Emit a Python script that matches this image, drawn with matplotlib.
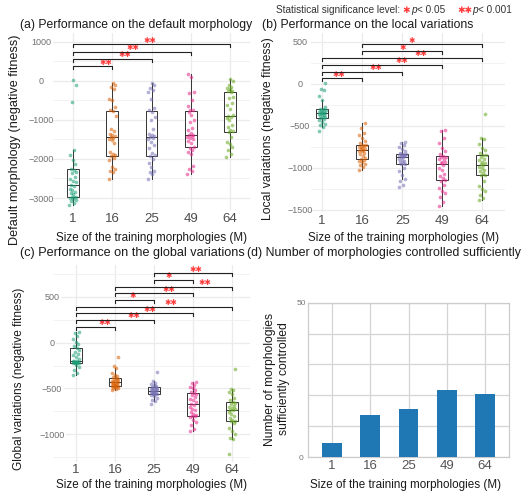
import numpy as np
import matplotlib
matplotlib.use('Agg')
import matplotlib.pyplot as plt

plt.rcParams['font.family'] = ['Liberation Sans', 'DejaVu Sans']

# ---- data ----
sizes = ['1', '16', '25', '49', '64']
colors = ['#1b9e77', '#d95f02', '#7570b3', '#e7298a', '#66a61e']

# (a) negative fitness on the default morphology, one list per M
default_scores = [
    [-3170, -3120, -3075, -3040, -3015, -3000, -2985, -2975, -2970, -2905, -2865, -2840,
     -2800, -2760, -2700, -2660, -2600, -2570, -2525, -2450, -2370, -2340, -2290, -2250,
     -2130, -2030, -1890, -1760, -540, -110, 20],
    [-2525, -2339, -2297, -2246, -2212, -2017, -1975, -1932, -1900, -1865, -1822, -1600,
     -1525, -1490, -1460, -1440, -1424, -1398, -1350, -1280, -1237, -900, -780, -760,
     -660, -490, -466, -210, -170, -110, -50],
    [-2520, -2390, -2330, -2300, -2200, -2100, -2000, -1930, -1900, -1850, -1720, -1640,
     -1560, -1500, -1470, -1450, -1420, -1400, -1360, -1240, -1000, -920, -800, -740,
     -700, -470, -290, -230, -180, -100, -60],
    [-2381, -2314, -2250, -2186, -1865, -1830, -1763, -1720, -1690, -1593, -1551, -1500,
     -1466, -1440, -1424, -1400, -1380, -1339, -1250, -1212, -1068, -1000, -873, -790,
     -760, -746, -645, -490, -320, -280, 100, 170],
    [-1950, -1870, -1780, -1700, -1620, -1560, -1450, -1320, -1290, -1260, -1180, -1120,
     -1000, -950, -920, -900, -880, -730, -620, -560, -450, -410, -300, -270, -250,
     -210, -180, -150, -110, 0, 50],
]

# (b) negative fitness on the local variations
local_scores = [
    [-565, -510, -490, -475, -450, -430, -415, -408, -400, -395, -385, -375, -365, -358,
     -352, -348, -342, -336, -330, -322, -316, -308, -300, -295, -280, -190, -140, -80,
     -60, 5],
    [-1020, -990, -970, -950, -930, -915, -905, -900, -880, -860, -840, -820, -805, -795,
     -788, -780, -772, -765, -755, -745, -735, -728, -722, -700, -680, -650, -610, -580,
     -530, -470],
    [-1230, -1200, -1160, -1130, -1090, -1040, -1000, -958, -950, -940, -930, -920, -905,
     -890, -875, -866, -860, -855, -850, -845, -840, -836, -832, -820, -800, -770, -750,
     -725, -705, -690],
    [-1450, -1400, -1350, -1300, -1270, -1240, -1200, -1150, -1140, -1120, -1100, -1070,
     -1030, -1000, -960, -945, -935, -925, -900, -890, -875, -868, -860, -830, -800, -760,
     -700, -650, -560, -545],
    [-1380, -1360, -1320, -1270, -1250, -1210, -1160, -1090, -1080, -1060, -1040, -1020,
     -1000, -985, -970, -955, -940, -930, -910, -890, -875, -850, -845, -820, -790, -760,
     -720, -660, -640, -360],
]

# (c) negative fitness on the global variations
global_scores = [
    [-350, -330, -300, -270, -240, -228, -222, -220, -218, -215, -212, -210, -208, -206,
     -205, -200, -180, -160, -140, -120, -100, -80, -55, -40, -20, 10, 40, 70, 100, 120],
    [-515, -505, -500, -490, -482, -478, -475, -473, -470, -465, -458, -450, -445, -440,
     -436, -430, -425, -420, -415, -410, -400, -395, -388, -380, -365, -350, -330, -280,
     -250, -160],
    [-670, -640, -625, -600, -585, -570, -565, -560, -558, -555, -550, -545, -540, -535,
     -528, -522, -518, -514, -510, -505, -500, -493, -488, -480, -470, -460, -450, -440,
     -420, -325],
    [-960, -945, -900, -870, -840, -810, -800, -797, -790, -780, -760, -740, -720, -700,
     -680, -665, -650, -630, -610, -590, -570, -556, -550, -540, -520, -500, -480, -460,
     -445, -430],
    [-1210, -1055, -1040, -1000, -960, -930, -880, -860, -850, -840, -820, -800, -780,
     -760, -740, -730, -720, -710, -700, -690, -670, -660, -645, -630, -600, -560, -540,
     -520, -505, -290],
]

# (d) number of morphologies sufficiently controlled
controlled_counts = [4.5, 13.7, 15.6, 21.8, 20.5]

# significance tests: (group i, group j) and label, bottom bracket first
sig_pairs_a = [(0, 1), (0, 2), (0, 3), (0, 4)]
sig_labels_a = ['**', '**', '**', '**']
sig_pairs_b = [(0, 1), (0, 2), (0, 3), (0, 4), (1, 3), (1, 4)]
sig_labels_b = ['**', '**', '**', '**', '*', '*']
sig_pairs_c = [(0, 1), (0, 2), (0, 3), (0, 4), (1, 2), (1, 3), (1, 4), (2, 3), (2, 4)]
sig_labels_c = ['**', '**', '**', '**', '*', '**', '**', '*', '**']

# ---- layout ----
W, H = 530, 496
fig = plt.figure(figsize=(W / 100, H / 100), dpi=100)
STAR = '\u2731'
RED = '#ff3c3c'


def add_axes_px(x0, x1, y0, y1):
    return fig.add_axes([x0 / W, 1 - y1 / H, (x1 - x0) / W, (y1 - y0) / H])


def ftext(x, y, s, **kw):
    return fig.text(x / W, 1 - y / H, s, **kw)


def box_panel(ax, groups, xlim, ylim, major, minor, ypad):
    line = dict(color='#333333', lw=0.7)
    ax.boxplot(groups, positions=range(5), widths=0.3, showfliers=False, showcaps=False,
               patch_artist=True, manage_ticks=False,
               boxprops=dict(facecolor='white', edgecolor='#333333', lw=0.7),
               whiskerprops=line, medianprops=line, zorder=2)
    for i, vals in enumerate(groups):
        n = len(vals)
        off = ((np.arange(n) * 0.618034) % 1 - 0.5) * 0.18
        ax.scatter(i + off, vals, s=7, color=colors[i], alpha=0.55, linewidths=0, zorder=3)
    ax.set_xlim(*xlim)
    ax.set_ylim(*ylim)
    for s in ax.spines.values():
        s.set_visible(False)
    ax.set_xticks(range(5))
    ax.set_xticklabels(sizes)
    ax.set_yticks(major)
    ax.set_yticks(minor, minor=True)
    ax.set_axisbelow(True)
    ax.grid(True, which='major', color='#ebebeb', lw=0.9)
    ax.grid(True, which='minor', axis='y', color='#f0f0f0', lw=0.6)
    ax.tick_params(which='both', length=0)
    ax.tick_params(axis='x', labelsize=9.5, labelcolor='#4d4d4d', pad=2)
    ax.tick_params(axis='y', labelsize=6.5, labelcolor='#707070', pad=ypad)
    for t in ax.yaxis.get_major_ticks():
        t.label1.set_horizontalalignment('center')


def brackets(ax, pairs, labels, base, step, star_x, tip_px=3):
    y0, y1 = ax.get_ylim()
    tip = tip_px * (y1 - y0) / (ax.get_position().height * H)
    for k, ((i, j), lab) in enumerate(zip(pairs, labels)):
        y = base + k * step
        ax.plot([i, i, j, j], [y - tip, y, y, y - tip], color='#222222', lw=0.8,
                zorder=4, clip_on=False)
        ax.annotate(STAR * len(lab), xy=(star_x[k], y), xytext=(0, 3),
                    textcoords='offset points', ha='center', va='center',
                    fontsize=5.5, color=RED, family='DejaVu Sans')


# (a)
ax_a = add_axes_px(53, 250, 33, 210)
box_panel(ax_a, default_scores, (-0.51, 4.51), (-3307, 1222),
          [-3000, -2000, -1000, 0, 1000], [-2500, -1500, -500, 500], 8.6)
brackets(ax_a, sig_pairs_a, sig_labels_a, 365, 188, [0.83, 1.32, 1.53, 1.97])

# (b)
ax_b = add_axes_px(311, 505, 33, 212)
box_panel(ax_b, local_scores, (-0.28, 4.57), (-1524, 603),
          [-1500, -1000, -500, 0, 500], [-1250, -750, -250, 250], 7.9)
brackets(ax_b, sig_pairs_b, sig_labels_b, 64, 80.5, [0.42, 1.34, 2.0, 2.46, 2.0, 2.24])

# (c)
ax_c = add_axes_px(53, 250, 265, 461.7)
box_panel(ax_c, global_scores, (-0.59, 4.46), (-1299, 846),
          [-1000, -500, 0, 500], [-1250, -750, -250, 250, 750], 0.7)
for t in ax_c.yaxis.get_major_ticks():
    t.label1.set_bbox(dict(facecolor='white', edgecolor='none', pad=1))
brackets(ax_c, sig_pairs_c, sig_labels_c, 173, 72.8,
         [0.73, 1.48, 1.9, 2.44, 1.44, 2.39, 3.31, 2.37, 3.08])

# (d)
ax_d = add_axes_px(307.7, 509.3, 302.7, 457)
ax_d.bar(range(5), controlled_counts, width=0.52, color='#1f77b4', zorder=3)
ax_d.set_xlim(-0.635, 4.635)
ax_d.set_ylim(0, 50)
ax_d.set_xticks(range(5))
ax_d.set_xticklabels(sizes)
ax_d.set_yticks([0, 10, 20, 30, 40, 50])
ax_d.set_yticklabels(['0', '', '', '', '', '50'])
ax_d.set_axisbelow(True)
ax_d.grid(True, color='#d4d4d4', lw=0.9)
for s in ax_d.spines.values():
    s.set_color('#cccccc')
    s.set_linewidth(0.9)
ax_d.tick_params(length=0)
ax_d.tick_params(axis='x', labelsize=9.5, labelcolor='#555555', pad=2)
ax_d.tick_params(axis='y', labelsize=6, labelcolor='#777777', pad=4.5)
for t in ax_d.yaxis.get_major_ticks():
    t.label1.set_horizontalalignment('center')

# titles and axis labels
tkw = dict(color='#1a1a1a', va='center', ha='left')
ftext(20, 25, '(a) Performance on the default morphology', fontsize=8.75, **tkw)
ftext(262, 25, '(b) Performance on the local variations', fontsize=8.85, **tkw)
ftext(20, 253, '(c) Performance on the global variations', fontsize=9.1, **tkw)
ftext(247, 253, '(d) Number of morphologies controlled sufficiently', fontsize=8.95, **tkw)

xkw = dict(fontsize=8.4, color='#1a1a1a', va='center', ha='center')
xlab = 'Size of the training morphologies (M)'
ftext(152, 238, xlab, **xkw)
ftext(403, 238, xlab, **xkw)
ftext(152, 485, xlab, **xkw)
ftext(405, 485, xlab, **xkw)

ykw = dict(color='#1a1a1a', va='center', ha='center', rotation=90)
ftext(15, 140, 'Default morphology (negative fitness)', fontsize=9.1, **ykw)
ftext(268, 129, 'Local variations (negative fitness)', fontsize=8.8, **ykw)
ftext(19, 379, 'Global variations (negative fitness)', fontsize=8.6, **ykw)
ftext(277, 379, 'Number of morphologies\nsufficiently controlled', fontsize=8.7,
      linespacing=1.3, **ykw)

# significance legend
lkw = dict(fontsize=7.2, color='#333333', va='baseline')
ftext(276, 13, 'Statistical significance level:', ha='left', **lkw)
ftext(405.7, 13, STAR, ha='center', family='DejaVu Sans',
      **dict(lkw, color=RED, fontsize=6.5))
ftext(411, 13, 'p', ha='left', style='italic', **lkw)
ftext(416.6, 13, '< 0.05', ha='left', **lkw)
ftext(465, 13, STAR * 2, ha='center', family='DejaVu Sans',
      **dict(lkw, color=RED, fontsize=6.5))
ftext(472, 13, 'p', ha='left', style='italic', **lkw)
ftext(477.6, 13, '< 0.001', ha='left', **lkw)

fig.savefig('out.png', dpi=100)
